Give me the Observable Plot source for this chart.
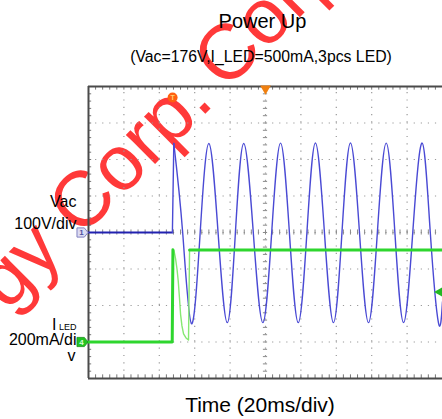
<!DOCTYPE html>
<html><head><meta charset="utf-8">
<script src="https://cdn.jsdelivr.net/npm/d3@7"></script>
<script src="https://cdn.jsdelivr.net/npm/@observablehq/plot@0.6"></script>
<style>body{margin:0;background:#fff}svg{display:block}</style>
</head><body><div id="chart"></div>
<script>
// ---- text ----
const title = "Power Up";
const subtitle = "(Vac=176V,I_LED=500mA,3pcs LED)";
const xLabel = "Time (20ms/div)";
const vacLabels = ["Vac", "100V/div"];
const iLabelMain = "I";
const iLabelSub = "LED";
const iLabelLines = ["200mA/di", "v"];
const watermark = ["gy Corp.", "Corp."];

// ---- scope settings ----
const timeDomain = [0, 200];      // ms (20 ms/div, 10 div)
const divDomain = [-4, 4];        // 8 vertical divisions
const vacPerDiv = 100;            // V/div
const iPerDiv = 200;              // mA/div
const vacOffsetDiv = 0;
const iOffsetDiv = -3;
const triggerTime = 47.5;         // ms
const triggerLevel = 274;         // mA

// ---- Vac trace (V) ----
const vacFlatT = [0, 47.4];
const vacFlatV = [0, 0];
const vacRiseT = [47.4, 48.2];
const vacRiseV = [0, 244];
const vacWaveT = [48.2, 53.2, 58.2, 63.1, 68.0, 73.2, 78.4, 83.0, 87.7, 93.1, 98.5, 103.5, 108.5, 113.5, 118.5, 123.4,
  128.2, 133.3, 138.4, 143.2, 148.0, 153.1, 158.2, 163.2, 168.2, 173.1, 178.0, 183.2, 188.5, 193.1, 197.7, 200];
const vacWaveV = [244, 0, -250, 0, 244, 0, -247, 0, 244, 0, -247, 0, 245, 0, -247, 0,
  245, 0, -247, 0, 245, 0, -247, 0, 245, 0, -247, 0, 245, 0, -247, -190];

// ---- I_LED trace (mA) ----
const iT = [0, 47.3, 47.7, 48.3, 49.2, 50.0, 50.7, 51.4, 52.0, 52.8, 53.7, 55.1, 56.5, 57.1, 200];
const iV = [0, 0, 506, 500, 455, 400, 334, 241, 153, 88, 44, 22, 11, 504, 504];

// ---- build tables ----
const vacDiv = v => v / vacPerDiv + vacOffsetDiv;
const iDiv = v => v / iPerDiv + iOffsetDiv;
const toRows = (T, V, f) => T.map((t, i) => ({t, y: f(V[i])}));
const vacFlat = toRows(vacFlatT, vacFlatV, vacDiv);
const vacRise = toRows(vacRiseT, vacRiseV, vacDiv);
const vacWave = toRows(vacWaveT, vacWaveV, vacDiv);
const iTrace = toRows(iT, iV, iDiv);
const iPre = iTrace.filter(d => d.t <= 47.7);
const iPost = iTrace.filter(d => d.t >= 57.1);

const majorT = d3.range(20, 200, 20);
const majorY = d3.range(-3, 4, 1);
const minorT = d3.range(0, 200.01, 4);
const minorY = d3.range(-4, 4.001, 0.2);

const font = "'Liberation Sans', Arial, Helvetica, sans-serif";

// channel marker symbol (arrow-pentagon pointing right)
const chanSymbol = {
  draw(ctx, size) {
    const r = Math.sqrt(size / Math.PI);
    ctx.moveTo(-1.2 * r, -r); ctx.lineTo(0.4 * r, -r); ctx.lineTo(1.2 * r, 0);
    ctx.lineTo(0.4 * r, r); ctx.lineTo(-1.2 * r, r); ctx.closePath();
  }
};

const gridStroke = "#9a9a9a";
const wmStyle = {fontSize: 78, fill: "#ff2424", fillOpacity: 0.9, rotate: -45, lineAnchor: "bottom", frameAnchor: "top-left"};
const chart = Plot.plot({
  width: 442, height: 419,
  marginLeft: 88, marginRight: 0, marginTop: 86, marginBottom: 41,
  x: {domain: timeDomain, axis: null},
  y: {domain: divDomain, axis: null},
  style: {fontFamily: font, background: "#fff", color: "#000"},
  marks: [
    // watermark
    Plot.text([watermark[0]], {...wmStyle, text: d => d, dx: 127, dy: 17, textAnchor: "end"}),
    Plot.text([watermark[1]], {...wmStyle, text: d => d, dx: 137, dy: 5, textAnchor: "start"}),
    // grid
    Plot.ruleX(majorT, {x: d => d, y1: divDomain[0], y2: divDomain[1], stroke: gridStroke, strokeWidth: 1.2, strokeDasharray: "1.2,6.1"}),
    Plot.ruleY(majorY, {y: d => d, x1: timeDomain[0], x2: timeDomain[1], stroke: gridStroke, strokeWidth: 1.2, strokeDasharray: "1.2,5.88"}),
    // center crosshair minor ticks
    Plot.ruleX(minorT, {x: d => d, y1: -0.07, y2: 0.07, stroke: "#8a8a8a"}),
    Plot.ruleY(minorY, {y: d => d, x1: 98.8, x2: 101.2, stroke: "#8a8a8a"}),
    // edge minor ticks
    Plot.ruleX(minorT, {x: d => d, y1: 4, y2: 3.9, stroke: "#777"}),
    Plot.ruleX(minorT, {x: d => d, y1: -4, y2: -3.9, stroke: "#777"}),
    Plot.ruleY(minorY, {y: d => d, x1: 0, x2: 1.8, stroke: "#777"}),
    // frame
    Plot.ruleY([divDomain[0], divDomain[1]], {stroke: "#4a4a4a", strokeWidth: 2}),
    Plot.ruleX([timeDomain[0]], {stroke: "#4a4a4a", strokeWidth: 2}),
    // Vac trace
    Plot.line(vacFlat, {x: "t", y: "y", stroke: "#2222b0", strokeWidth: 2.2}),
    Plot.line(vacRise, {x: "t", y: "y", stroke: "#4a4ad4", strokeWidth: 1.4}),
    Plot.line(vacWave, {x: "t", y: "y", curve: "natural", stroke: "#4a4ad4", strokeWidth: 1.4}),
    // I_LED trace
    Plot.line(iTrace, {x: "t", y: "y", stroke: "#86e872", strokeWidth: 1.4}),
    Plot.line(iPre, {x: "t", y: "y", stroke: "#2ed62e", strokeWidth: 3}),
    Plot.line(iPost, {x: "t", y: "y", stroke: "#2ed62e", strokeWidth: 3}),
    // markers
    Plot.dot([vacOffsetDiv], {x: timeDomain[0], y: d => d, dx: -6, r: 4.6, symbol: chanSymbol, fill: "#dcdcf2", stroke: "#8080c0", strokeWidth: 1}),
    Plot.text(["1"], {x: timeDomain[0], y: vacOffsetDiv, dx: -7, text: d => d, fontSize: 8, fontWeight: "bold", fill: "#5050a0"}),
    Plot.dot([iOffsetDiv], {x: timeDomain[0], y: d => d, dx: -6, r: 4.6, symbol: chanSymbol, fill: "#22c422", stroke: "#189018", strokeWidth: 0.8}),
    Plot.text(["4"], {x: timeDomain[0], y: iOffsetDiv, dx: -7, text: d => d, fontSize: 8, fontWeight: "bold", fill: "#d8ffd8"}),
    Plot.dot([triggerTime], {x: d => d, y: divDomain[1], dy: 11, r: 5, fill: "#ff6010"}),
    Plot.text(["T"], {x: triggerTime, y: divDomain[1], dy: 11, text: d => d, fontSize: 7, fontWeight: "bold", fill: "#ffd070"}),
    Plot.dot([100], {x: d => d, y: divDomain[1], dy: 2, r: 4, symbol: "triangle", rotate: 180, fill: "#f08010"}),
    Plot.dot([triggerLevel], {x: timeDomain[1], y: d => iDiv(d), dx: -3, r: 3.5, symbol: "triangle", rotate: -90, fill: "#22b822"}),
    // titles and labels
    Plot.text([title], {text: d => d, frameAnchor: "top", dx: -3, dy: -59, lineAnchor: "bottom", fontSize: 20, fill: "#000"}),
    Plot.text([subtitle], {text: d => d, frameAnchor: "top", dx: -4.5, dy: -25, lineAnchor: "bottom", fontSize: 15.8, fill: "#000"}),
    Plot.text([xLabel], {text: d => d, frameAnchor: "bottom", dx: -5.5, dy: 33, lineAnchor: "bottom", fontSize: 21, fill: "#000"}),
    Plot.text([vacLabels[0]], {text: d => d, frameAnchor: "top-left", dx: -12, dy: 120, textAnchor: "end", lineAnchor: "bottom", fontSize: 16, fill: "#000"}),
    Plot.text([vacLabels[1]], {text: d => d, frameAnchor: "top-left", dx: -12, dy: 142, textAnchor: "end", lineAnchor: "bottom", fontSize: 16, fill: "#000"}),
    Plot.text([iLabelMain], {text: d => d, frameAnchor: "top-left", dx: -32, dy: 243, textAnchor: "end", lineAnchor: "bottom", fontSize: 16, fill: "#000"}),
    Plot.text([iLabelSub], {text: d => d, frameAnchor: "top-left", dx: -12, dy: 243.5, textAnchor: "end", lineAnchor: "bottom", fontSize: 9, fill: "#000"}),
    Plot.text([iLabelLines[0]], {text: d => d, frameAnchor: "top-left", dx: -12, dy: 258, textAnchor: "end", lineAnchor: "bottom", fontSize: 16, fill: "#000"}),
    Plot.text([iLabelLines[1]], {text: d => d, frameAnchor: "top-left", dx: -13, dy: 274, textAnchor: "end", lineAnchor: "bottom", fontSize: 16, fill: "#000"})
  ]
});
document.getElementById("chart").appendChild(chart);
</script>
</body></html>
